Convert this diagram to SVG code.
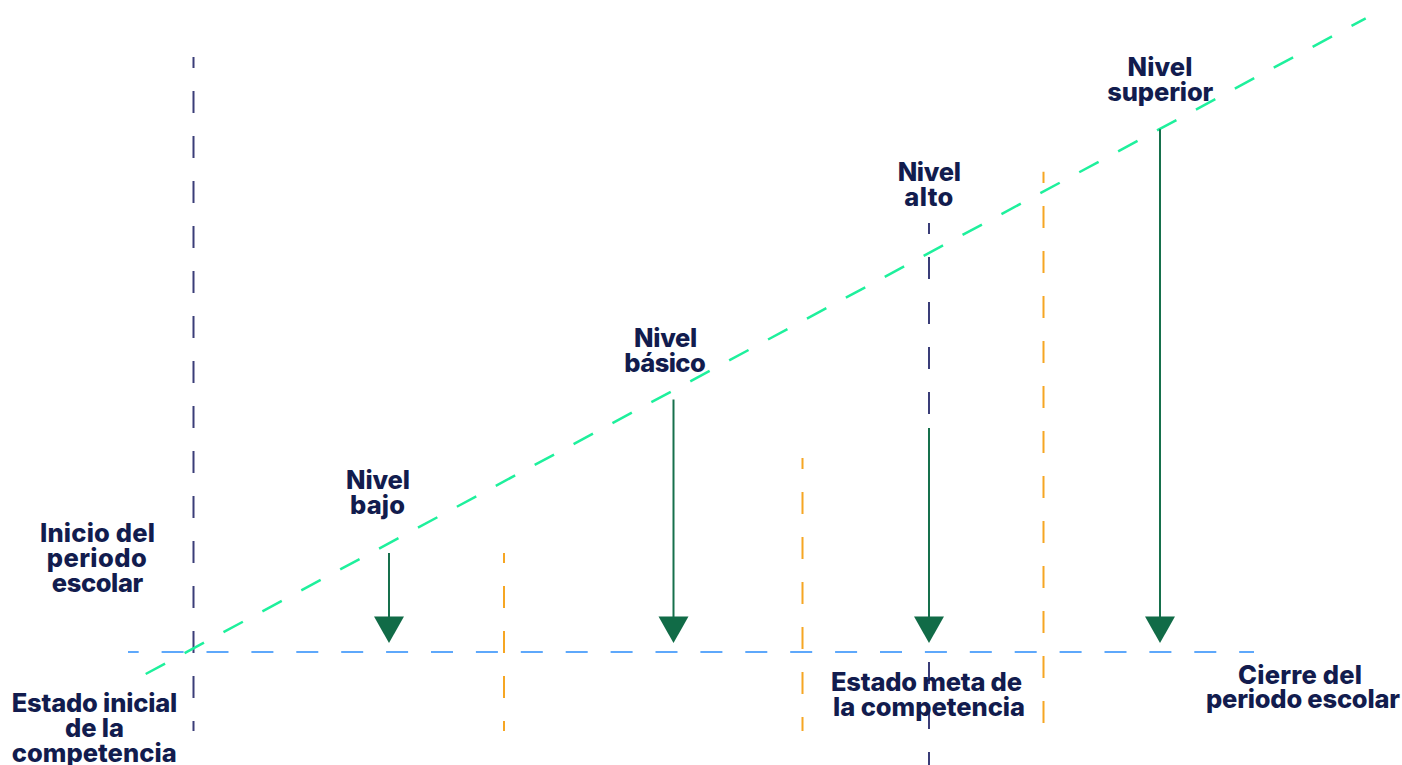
<svg xmlns="http://www.w3.org/2000/svg" width="1402" height="765" viewBox="0 0 1402 765">
<style>
.lbl{font-family:Inter,Lato,"Liberation Sans",Arial,sans-serif;font-weight:800;font-size:25.5px;fill:#121c4e;text-anchor:middle}
.navy{stroke:#3a3d78;stroke-width:2;fill:none;stroke-dasharray:22 23}
.orange{stroke:#f6a623;stroke-width:2;fill:none;stroke-dasharray:22 23}
.blue{stroke:#5ea8fb;stroke-width:2;fill:none;stroke-dasharray:22 22.9}
.mint{stroke:#1ef09c;stroke-width:2.5;fill:none;stroke-dasharray:22 22.16}
.arrow{stroke:#16704c;stroke-width:2;fill:none}
.head{fill:#116b47}
</style>
<rect width="1402" height="765" fill="#ffffff"/>
<g id="connectors">
  <line class="navy" x1="193.5" y1="57" x2="193.5" y2="731" stroke-dashoffset="11"/>
  <line class="orange" x1="504" y1="553" x2="504" y2="731" stroke-dashoffset="12"/>
  <line class="orange" x1="802.5" y1="458" x2="802.5" y2="731" stroke-dashoffset="11"/>
  <line class="orange" x1="1043.5" y1="171.7" x2="1043.5" y2="731" stroke-dasharray="21.5 21.5" stroke-dashoffset="10.7"/>
  <line class="navy" x1="929" y1="223" x2="929" y2="428" stroke-dashoffset="11"/>
  <line class="navy" x1="929" y1="662" x2="929" y2="765" stroke-dasharray="66 24"/>
  <line class="blue" x1="128" y1="652" x2="1254" y2="652" stroke-dashoffset="11.3"/>
  <line class="mint" x1="145.7" y1="674" x2="1365.7" y2="18.3"/>
  <g id="arrow-bajo">
    <line class="arrow" x1="389" y1="553" x2="389" y2="620"/>
    <polygon class="head" points="374,616.5 404,616.5 389,643"/>
  </g>
  <g id="arrow-basico">
    <line class="arrow" x1="673.5" y1="399.5" x2="673.5" y2="620"/>
    <polygon class="head" points="658.5,616.5 688.5,616.5 673.5,643"/>
  </g>
  <g id="arrow-alto">
    <line class="arrow" x1="929" y1="428" x2="929" y2="620"/>
    <polygon class="head" points="914,616.5 944,616.5 929,643"/>
  </g>
  <g id="arrow-superior">
    <line class="arrow" x1="1160" y1="129.3" x2="1160" y2="620"/>
    <polygon class="head" points="1145,616.5 1175,616.5 1160,643"/>
  </g>
</g>
<g id="nivel-superior">
  <text class="lbl" x="1160" y="76" textLength="65">Nivel</text>
  <text class="lbl" x="1160.3" y="100.5" textLength="106">superior</text>
</g>
<g id="nivel-alto">
  <text class="lbl" x="929.3" y="180.7" textLength="63.3">Nivel</text>
  <text class="lbl" x="928.8" y="205.7" textLength="49">alto</text>
</g>
<g id="nivel-basico">
  <text class="lbl" x="665.7" y="346.7" textLength="63.3">Nivel</text>
  <text class="lbl" x="665" y="371.7" textLength="81.4">básico</text>
</g>
<g id="nivel-bajo">
  <text class="lbl" x="378" y="489" textLength="64">Nivel</text>
  <text class="lbl" x="377.5" y="514" textLength="55">bajo</text>
</g>
<g id="inicio-periodo">
  <text class="lbl" x="97.5" y="541.7" textLength="115">Inicio del</text>
  <text class="lbl" x="96.7" y="566.7" textLength="100">periodo</text>
  <text class="lbl" x="97.5" y="591.7" textLength="91.6">escolar</text>
</g>
<g id="estado-inicial">
  <text class="lbl" x="94.5" y="711.7" textLength="165.6">Estado inicial</text>
  <text class="lbl" x="94.5" y="736.7" textLength="59">de la</text>
  <text class="lbl" x="94.2" y="761.7" textLength="165">competencia</text>
</g>
<g id="estado-meta">
  <text class="lbl" x="926.5" y="691" textLength="191">Estado meta de</text>
  <text class="lbl" x="929" y="716" textLength="192">la competencia</text>
</g>
<g id="cierre-periodo">
  <text class="lbl" x="1300" y="684.3" textLength="124">Cierre del</text>
  <text class="lbl" x="1303" y="708.3" textLength="194">periodo escolar</text>
</g>
</svg>
